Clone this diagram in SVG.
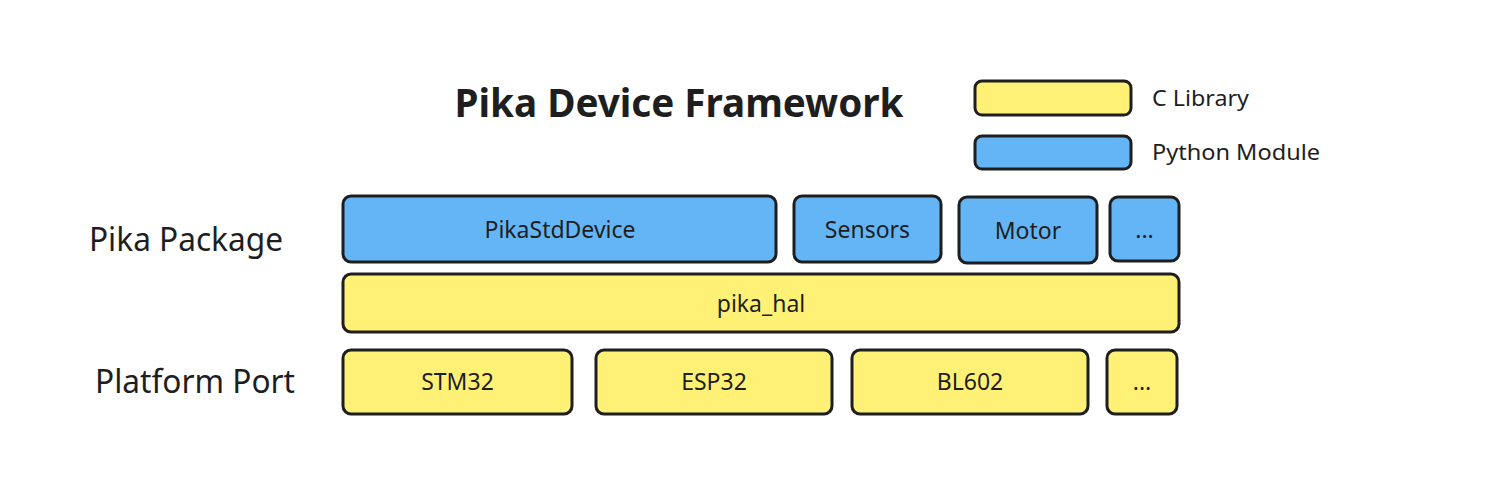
<svg xmlns="http://www.w3.org/2000/svg" width="1485" height="483" viewBox="0 0 1485 483">
<style>
.box{stroke:#1e1e1e;stroke-width:3;stroke-linejoin:round}
.c{fill:#fff176}
.py{fill:#64b5f6}
text{font-family:"Noto Sans","Open Sans","DejaVu Sans",sans-serif;fill:#1e1e1e}
.lbl{font-size:23px;text-anchor:middle}
.side{font-size:33px}
.leg{font-size:22px}
.title{font-size:40px;font-weight:bold;text-anchor:middle}
</style>
<rect width="1485" height="483" fill="#ffffff"/>
<text class="title" x="679" y="117" textLength="449" lengthAdjust="spacingAndGlyphs">Pika Device Framework</text>
<g id="legend-c">
<rect class="box c" x="975" y="81" width="156" height="34" rx="7"/>
<text class="leg" x="1152" y="106" textLength="97" lengthAdjust="spacingAndGlyphs">C Library</text>
</g>
<g id="legend-py">
<rect class="box py" x="975" y="136" width="156" height="33" rx="7"/>
<text class="leg" x="1152" y="160" textLength="168" lengthAdjust="spacingAndGlyphs">Python Module</text>
</g>
<g id="label-package"><text class="side" x="89" y="251" textLength="194" lengthAdjust="spacingAndGlyphs">Pika Package</text></g>
<g id="label-port"><text class="side" x="95" y="393" textLength="200" lengthAdjust="spacingAndGlyphs">Platform Port</text></g>
<g id="PikaStdDevice">
<rect class="box py" x="343" y="196" width="433" height="66" rx="8"/>
<text class="lbl" x="560" y="238">PikaStdDevice</text>
</g>
<g id="Sensors">
<rect class="box py" x="794" y="196" width="147" height="66" rx="8"/>
<text class="lbl" x="867.5" y="238">Sensors</text>
</g>
<g id="Motor">
<rect class="box py" x="959" y="197" width="138" height="66" rx="8"/>
<text class="lbl" x="1028" y="239">Motor</text>
</g>
<g id="pkg-more">
<rect class="box py" x="1110" y="197" width="69" height="64" rx="8"/>
<text class="lbl" x="1144.5" y="238">...</text>
</g>
<g id="pika_hal">
<rect class="box c" x="343" y="274" width="836" height="58" rx="8"/>
<text class="lbl" x="761" y="312">pika_hal</text>
</g>
<g id="STM32">
<rect class="box c" x="343" y="350" width="229" height="64" rx="8"/>
<text class="lbl" x="457.5" y="390">STM32</text>
</g>
<g id="ESP32">
<rect class="box c" x="596" y="350" width="236" height="64" rx="8"/>
<text class="lbl" x="714" y="390">ESP32</text>
</g>
<g id="BL602">
<rect class="box c" x="852" y="350" width="236" height="64" rx="8"/>
<text class="lbl" x="970" y="390">BL602</text>
</g>
<g id="port-more">
<rect class="box c" x="1107" y="350" width="70" height="64" rx="8"/>
<text class="lbl" x="1142" y="390">...</text>
</g>
<g id="connectors"></g>
</svg>
